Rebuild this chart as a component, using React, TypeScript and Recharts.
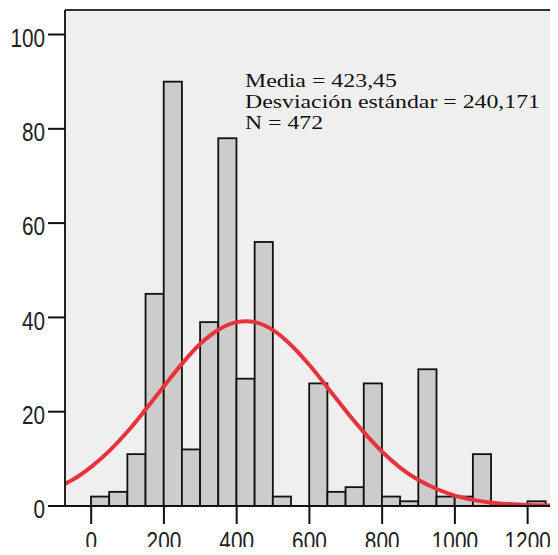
import { ComposedChart, Bar, Line, XAxis, YAxis, CartesianGrid, ReferenceLine } from 'recharts';

// histogram bins (lower edge), width 50
const binStarts = [0, 50, 100, 150, 200, 250, 300, 350, 400, 450, 500, 550, 600, 650, 700, 750, 800, 850, 900, 950, 1000, 1050, 1100, 1150, 1200];
const binCounts = [2, 3, 11, 45, 90, 12, 39, 78, 27, 56, 2, 0, 26, 3, 4, 26, 2, 1, 29, 2, 2, 11, 0, 0, 1];
const binWidth = 50;

// fitted normal curve
const curveX = [-72, -50, 0, 50, 100, 150, 200, 250, 300, 350, 400, 425, 450, 500, 550, 600, 650, 700, 750, 800, 850, 900, 950, 1000, 1050, 1100, 1150, 1200, 1250, 1300];
const curveY = [4.7, 5.6, 8.3, 11.7, 15.8, 20.5, 25.4, 30.2, 34.4, 37.4, 39.0, 39.2, 39.0, 37.3, 34.1, 29.9, 25.1, 20.2, 15.6, 11.5, 8.1, 5.5, 3.6, 2.2, 1.3, 0.7, 0.4, 0.2, 0.1, 0.05];

const xTicks = [0, 200, 400, 600, 800, 1000, 1200];
const yTicks = [0, 20, 40, 60, 80, 100];
const statsLines = ['Media = 423,45', 'Desviación estándar = 240,171', 'N = 472'];
const statsWidths = [152, 295, 78];

const X_MIN = -72;
const X_MAX = 1300;
const Y_MAX = 105.2;

const CHART_W = 600;
const CHART_H = 555;
const Y_AXIS_W = 65;
const MARGIN_RIGHT = 36;

const TICK_FONT = '"Liberation Sans", Arial, sans-serif';

function XTick({ x, y, payload }: any) {
  return (
    <text
      transform={`translate(${x} ${y}) scale(0.83 1)`}
      textAnchor="middle"
      dy="0.71em"
      fontFamily={TICK_FONT}
      fontSize={25}
      fill="#222"
    >
      {payload.value}
    </text>
  );
}

function YTick({ x, y, payload }: any) {
  return (
    <text
      transform={`translate(${x} ${y + 3.5}) scale(0.83 1)`}
      textAnchor="end"
      dy="0.355em"
      fontFamily={TICK_FONT}
      fontSize={25}
      fill="#222"
    >
      {payload.value}
    </text>
  );
}

export default function App() {
  const bins = binStarts.map((start, i) => ({ x: start + binWidth / 2, count: binCounts[i] }));
  const curve = curveX.map((x, i) => ({ x, fit: curveY[i] }));

  const plotWidth = CHART_W - Y_AXIS_W - MARGIN_RIGHT;
  const barSize = (plotWidth / (X_MAX - X_MIN)) * binWidth;

  const HistBar = (props: any) => {
    const { x, y, width, height } = props;
    if (!height || height <= 0) return null;
    const cx = x + width / 2;
    return (
      <rect
        x={cx - barSize / 2}
        y={y}
        width={barSize}
        height={height}
        fill="#cccccc"
        stroke="#111"
        strokeWidth={1.8}
      />
    );
  };

  return (
    <div style={{ position: 'relative', width: 558, height: 555, overflow: 'hidden', margin: -8, background: '#fff' }}>
      <ComposedChart
        width={CHART_W}
        height={CHART_H}
        data={bins}
        margin={{ top: 10, right: MARGIN_RIGHT, bottom: 0, left: 0 }}
      >
        <CartesianGrid fill="#efefef" horizontal={false} vertical={false} />
        <XAxis
          dataKey="x"
          type="number"
          domain={[X_MIN, X_MAX]}
          ticks={xTicks}
          allowDataOverflow
          height={49}
          tickSize={18}
          tickMargin={8}
          tick={<XTick />}
          axisLine={{ stroke: '#111', strokeWidth: 2 }}
          tickLine={{ stroke: '#111', strokeWidth: 2 }}
        />
        <YAxis
          type="number"
          domain={[0, Y_MAX]}
          ticks={yTicks}
          allowDataOverflow
          width={Y_AXIS_W}
          tickSize={17}
          tickMargin={3}
          tick={<YTick />}
          axisLine={{ stroke: '#222', strokeWidth: 2 }}
          tickLine={{ stroke: '#111', strokeWidth: 2 }}
        />
        <ReferenceLine y={Y_MAX} stroke="#333" strokeWidth={2} />
        <Bar dataKey="count" shape={HistBar} isAnimationActive={false} />
        <Line
          data={curve}
          dataKey="fit"
          type="monotone"
          stroke="#e8333b"
          strokeWidth={4}
          dot={false}
          activeDot={false}
          isAnimationActive={false}
        />
      </ComposedChart>
      <svg
        width={340}
        height={80}
        style={{ position: 'absolute', left: 240, top: 62 }}
      >
        {statsLines.map((line, i) => (
          <text
            key={line}
            x={5}
            y={24.7 + i * 21}
            textLength={statsWidths[i]}
            lengthAdjust="spacingAndGlyphs"
            fontFamily='"Liberation Serif", serif'
            fontSize={19}
            fill="#111"
          >
            {line}
          </text>
        ))}
      </svg>
    </div>
  );
}
